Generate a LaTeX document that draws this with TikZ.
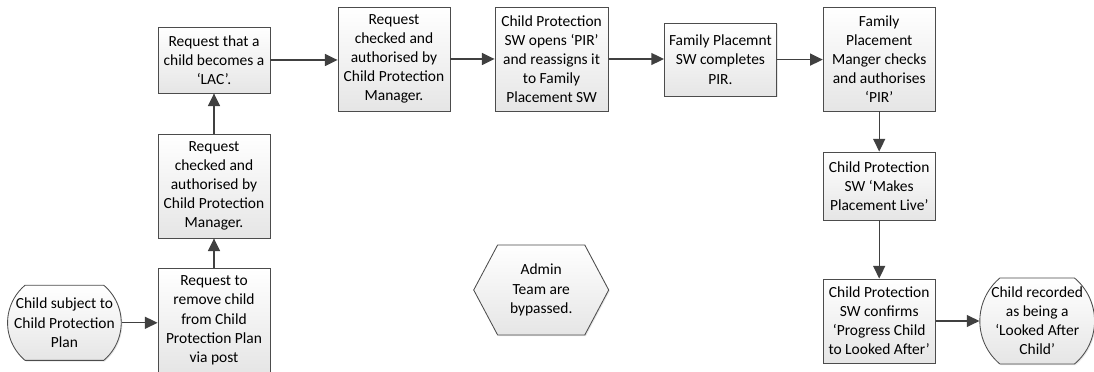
\documentclass[tikz,border=0pt]{standalone}
\usepackage{fontspec}
\setmainfont{Carlito}
\usetikzlibrary{arrows.meta,shapes.symbols,shapes.misc,shadows}

\tikzset{
  base/.style={draw=black!70, line width=0.6pt, top color=white, bottom color=black!10,
    drop shadow={opacity=0.2, shadow xshift=0.8pt, shadow yshift=-0.8pt},
    align=center, inner sep=1pt, font=\fontsize{11}{13.6}\selectfont},
  procbox/.style={base, rectangle, minimum width=2.8cm},
  termbox/.style={base, rounded rectangle, rounded rectangle arc length=100, inner xsep=0pt},
  hexbox/.style={base, shape=signal, signal to=west and east, signal pointer angle=124,
    minimum width=3.375cm, minimum height=2.25cm},
  flow/.style={draw=black!75, line width=1pt, -{Triangle[length=9pt, width=8.5pt]}}
}

\begin{document}
\begin{tikzpicture}
   \useasboundingbox (0,0) rectangle (27.35,9.3);

   \node (ChildPlan) at (1.61,1.23) [termbox, minimum width=2.73cm, minimum height=1.88cm] {Child subject to\\Child Protection\\Plan};
   \node (RemoveReq) at (5.35,1.29) [procbox, minimum height=2.58cm] {Request to\\remove child\\from Child\\Protection Plan\\via post};
   \node (CheckedL) at (5.35,4.65) [procbox, minimum height=2.6cm] {Request\\checked and\\authorised by\\Child Protection\\Manager.};
   \node (LACReq) at (5.35,7.8) [procbox, minimum height=1.65cm] {Request that a\\child becomes a\\‘LAC’.};

   \node (CheckedT) at (9.85,7.825) [procbox, minimum height=2.6cm] {Request\\checked and\\authorised by\\Child Protection\\Manager.};
   \node (OpensPIR) at (13.79,7.825) [procbox, minimum width=2.83cm, minimum height=2.6cm] {Child Protection\\SW opens ‘PIR’\\and reassigns it\\to Family\\Placement SW};
   \node (CompletesPIR) at (18.01,7.81) [procbox, minimum height=1.83cm] {Family Placemnt\\SW completes\\PIR.};
   \node (AuthPIR) at (21.98,7.825) [procbox, minimum height=2.6cm] {Family\\Placement\\Manger checks\\and authorises\\‘PIR’};

   \node (MakesLive) at (21.98,4.65) [procbox, minimum height=1.7cm] {Child Protection\\SW ‘Makes\\Placement Live’};
   \node (Confirms) at (21.98,1.275) [procbox, minimum height=2.1cm] {Child Protection\\SW confirms\\‘Progress Child\\to Looked After’};
   \node (LookedAfter) at (25.93,1.275) [termbox, minimum width=2.75cm, minimum height=2.15cm] {Child recorded\\as being a\\‘Looked After\\Child’};

   \node (Admin) at (13.53,2.05) [hexbox] {Admin\\Team are\\bypassed.};

   \draw [flow] (ChildPlan.east) -- (ChildPlan.east -| RemoveReq.west);
   \draw [flow] (RemoveReq.north) -- (CheckedL.south);
   \draw [flow] (CheckedL.north) -- (LACReq.south);
   \draw [flow] (LACReq.east) -- (LACReq.east -| CheckedT.west);
   \draw [flow] (CheckedT.east) -- (OpensPIR.west);
   \draw [flow] (OpensPIR.east) -- (OpensPIR.east -| CompletesPIR.west);
   \draw [flow] (CompletesPIR.east) -- (CompletesPIR.east -| AuthPIR.west);
   \draw [flow] (AuthPIR.south) -- (MakesLive.north);
   \draw [flow] (MakesLive.south) -- (Confirms.north);
   \draw [flow] (Confirms.east) -- (LookedAfter.west);

\end{tikzpicture}
\end{document}
